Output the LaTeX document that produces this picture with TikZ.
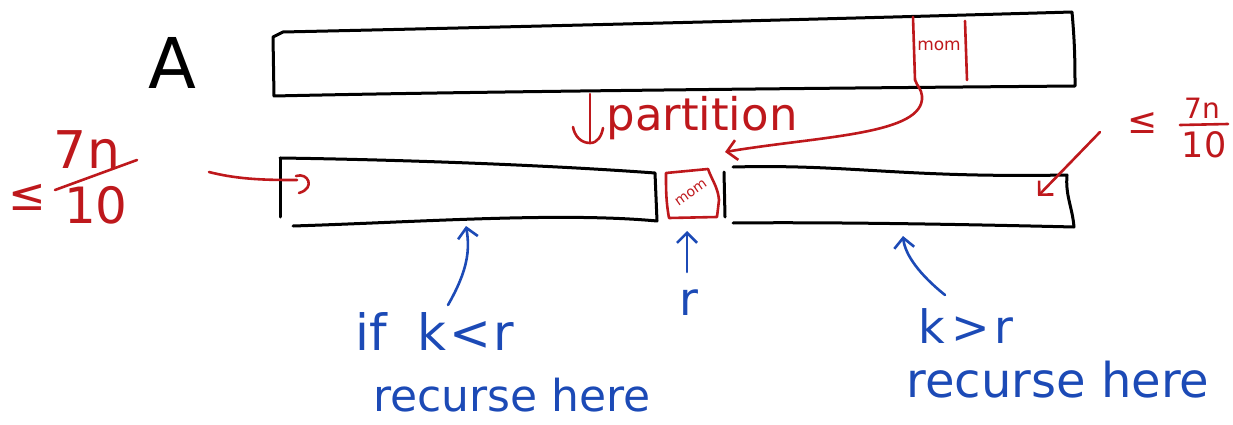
\documentclass[tikz,border=0pt]{standalone}
\usepackage{fontspec}
\setmainfont{DejaVu Sans}
\usetikzlibrary{arrows.meta}
\definecolor{inkred}{RGB}{190,24,28}
\definecolor{inkblue}{RGB}{28,74,182}
\newcommand{\fs}[1]{\fontsize{#1}{#1}\selectfont}
\begin{document}
\begin{tikzpicture}[x=1pt,y=-1pt,
  line cap=round, line join=round,
  bar/.style={draw=black, line width=3pt},
  redink/.style={draw=inkred, line width=2.6pt},
  blueink/.style={draw=inkblue, line width=2.6pt},
  barb/.style={-{Straight Barb[length=10pt,width=20pt]}},
  redtxt/.style={text=inkred, inner sep=0pt},
  bluetxt/.style={text=inkblue, inner sep=0pt}]
\useasboundingbox (0,0) rectangle (1233,425);

% ---- array A ----
\coordinate (A-tl) at (273,37);
\coordinate (A-tr) at (1072,12);
\coordinate (A-br) at (1075,86);
\coordinate (A-bl) at (274,96);
\draw[bar] (A-tl) -- (283,32) .. controls (600,25) and (900,17) .. (A-tr)
  to[out=-85,in=90] (A-br) .. controls (850,88) and (500,91) .. (A-bl) -- cycle;
\node[inner sep=0pt, font=\fs{70}] (lblA) at (172,63) {A};

% median of medians inside A
\coordinate (m1t) at (913,17);
\coordinate (m1b) at (915,80);
\coordinate (m2t) at (965,21);
\coordinate (m2b) at (967,80);
\draw[redink] (m1t) -- (m1b);
\draw[redink] (m2t) -- (m2b);
\node[redtxt, font=\fs{17}] (momA) at (939,46) {mom};

% partition step
\coordinate (pa-top) at (590,94);
\coordinate (pa-bot) at (590,143);
\draw[redink] (pa-top) -- (pa-bot);
\draw[redink] (573,127) to[out=-80,in=180] (pa-bot) to[out=0,in=-100] (603,128);
\node[redtxt, font=\fs{45}, anchor=base] (part) at (702,131) {partition};

\coordinate (pivot-in) at (725,152);
\draw[redink, barb] (m1b) to[out=-70,in=95] (922,96)
  .. controls (925,135) and (820,136) .. (pivot-in);

% ---- left part ----
\coordinate (L-tl) at (280,158);
\coordinate (L-tr) at (655,173);
\coordinate (L-br) at (657,221);
\coordinate (L-bl) at (293,226);
\coordinate (L-lb) at (280,217);
\draw[bar] (L-tl) .. controls (420,160) and (560,166) .. (L-tr) -- (L-br)
  .. controls (560,212) and (420,222) .. (L-bl);
\draw[bar] (L-tl) -- (L-lb);

% ---- pivot ----
\draw[redink] (666,173) -- (708,169) to[out=-70,in=95] (719,200) -- (717,217)
  -- (669,218) to[out=100,in=-90] (666,173);
\node[redtxt, font=\fs{14}, rotate=35] (momB) at (691,193) {mom};
\coordinate (sep-t) at (724,172);
\coordinate (sep-b) at (725,217);
\draw[bar] (sep-t) -- (sep-b);

% ---- right part ----
\coordinate (R-tl) at (733,167);
\coordinate (R-tr) at (1067,175);
\coordinate (R-br) at (1074,227);
\coordinate (R-bl) at (733,223);
\draw[bar] (R-tl) .. controls (850,164) and (900,178) .. (R-tr)
  to[out=-95,in=95] (R-br) .. controls (950,224) and (820,222) .. (R-bl);

% ---- size bounds ----
\coordinate (lc-start) at (209,172);
\coordinate (lc-end) at (297,180);
\draw[redink] (lc-start) .. controls (240,180) and (270,180) .. (lc-end);
\draw[redink] (296,176) .. controls (308,172) and (316,188) .. (299,193);
\node[redtxt, font=\fs{45}] (leL) at (27,197) {≤};
\node[redtxt, font=\fs{52}] (numL) at (87,150) {7n};
\node[redtxt, font=\fs{50}] (denL) at (96,205) {10};
\coordinate (fbL1) at (55,190);
\coordinate (fbL2) at (137,160);
\draw[redink] (fbL1) -- (fbL2);

\coordinate (ra-start) at (1100,132);
\coordinate (ra-tip) at (1038,196);
\draw[redink, barb] (ra-start) -- (ra-tip);
\node[redtxt, font=\fs{36}] (leR) at (1143,123) {≤};
\node[redtxt, font=\fs{28}] (numR) at (1202,108) {7n};
\node[redtxt, font=\fs{35}] (denR) at (1204,145) {10};
\coordinate (fbR1) at (1180,125);
\coordinate (fbR2) at (1228,124);
\draw[redink] (fbR1) -- (fbR2);

% ---- recursion notes ----
\node[bluetxt, font=\fs{50}] (ifk) at (435,332) {if\hspace{30pt}k\hspace{3pt}<\hspace{3pt}r};
\node[bluetxt, font=\fs{44}] (recL) at (512,395) {recurse here};
\node[bluetxt, font=\fs{46}] (rlab) at (689,303) {r};
\node[bluetxt, font=\fs{46}] (kgr) at (966,326) {k\hspace{6pt}>\hspace{4pt}r};
\node[bluetxt, font=\fs{48}] (recR) at (1058,380) {recurse here};

\coordinate (bL-tail) at (448,305);
\coordinate (bL-tip) at (466,226);
\draw[blueink, barb] (bL-tail) .. controls (468,270) and (470,250) .. (bL-tip);
\coordinate (bM-tail) at (687,272);
\coordinate (bM-tip) at (687,231);
\draw[blueink, barb] (bM-tail) -- (bM-tip);
\coordinate (bR-tail) at (945,295);
\coordinate (bR-tip) at (903,236);
\draw[blueink, barb] (bR-tail) .. controls (920,275) and (905,255) .. (bR-tip);
\end{tikzpicture}
\end{document}
